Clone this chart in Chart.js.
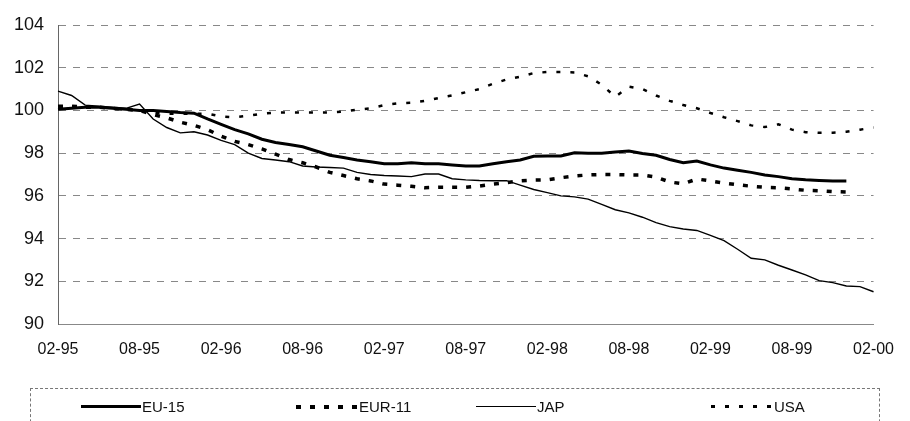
<!DOCTYPE html>
<html>
<head>
<meta charset="utf-8">
<script src="https://cdn.jsdelivr.net/npm/chart.js@4.4.1/dist/chart.umd.min.js"></script>
<style>
  body { margin: 0; background: #fff; }
  #wrap { position: relative; width: 910px; height: 421px; overflow: hidden; }
  #legend {
    position: absolute; left: 30px; top: 388px; width: 850px; height: 50px;
    border: 1px dashed #777; box-sizing: border-box;
    font-family: "Liberation Sans", Arial, sans-serif; font-size: 15px; color: #111;
  }
  .item { position: absolute; top: 9px; display: flex; align-items: center; }
  .sample { margin-right: 1px; }
</style>
</head>
<body>
<div id="wrap">
  <canvas id="chart" width="910" height="421"></canvas>
  <div id="legend"></div>
</div>
<script>
const months = [
  "02-95","03-95","04-95","05-95","06-95","07-95","08-95","09-95","10-95","11-95","12-95","01-96",
  "02-96","03-96","04-96","05-96","06-96","07-96","08-96","09-96","10-96","11-96","12-96","01-97",
  "02-97","03-97","04-97","05-97","06-97","07-97","08-97","09-97","10-97","11-97","12-97","01-98",
  "02-98","03-98","04-98","05-98","06-98","07-98","08-98","09-98","10-98","11-98","12-98","01-99",
  "02-99","03-99","04-99","05-99","06-99","07-99","08-99","09-99","10-99","11-99","12-99","01-00",
  "02-00"
];

const eu15 = [
  100.05, 100.1, 100.15, 100.15, 100.1, 100.05, 100.0, 100.0, 99.95, 99.9, 99.87, 99.6,
  99.35, 99.1, 98.9, 98.65, 98.5, 98.4, 98.3, 98.1, 97.9, 97.8, 97.68, 97.6,
  97.5, 97.5, 97.55, 97.5, 97.5, 97.45, 97.4, 97.4, 97.5, 97.6, 97.68, 97.85,
  97.87, 97.87, 98.02, 98.0, 98.0, 98.05, 98.1, 97.98, 97.9, 97.7, 97.55, 97.63,
  97.45, 97.3, 97.2, 97.1, 96.98, 96.9, 96.8, 96.75, 96.72, 96.7, 96.7
];

const eur11 = [
  100.2, 100.2, 100.15, 100.15, 100.1, 100.05, 100.0, 99.8, 99.65, 99.45, 99.3, 99.1,
  98.8, 98.55, 98.4, 98.2, 97.95, 97.7, 97.55, 97.35, 97.1, 96.95, 96.8, 96.7,
  96.55, 96.5, 96.45, 96.38, 96.4, 96.4, 96.4, 96.46, 96.55, 96.62, 96.7, 96.74,
  96.75, 96.85, 96.93, 96.98, 97.0, 97.0, 96.98, 96.98, 96.88, 96.65, 96.56, 96.79,
  96.7, 96.6, 96.52, 96.45, 96.4, 96.38, 96.32, 96.26, 96.24, 96.2, 96.18
];

const jap = [
  100.9, 100.7, 100.25, 100.2, 100.15, 100.1, 100.3, 99.6, 99.2, 98.95, 99.0, 98.85,
  98.6, 98.4, 98.0, 97.75, 97.68, 97.6, 97.4, 97.35, 97.33, 97.3, 97.1, 97.0,
  96.95, 96.93, 96.9, 97.02, 97.02, 96.8, 96.75, 96.72, 96.71, 96.71, 96.5, 96.3,
  96.15, 96.0, 95.95, 95.85, 95.6, 95.35, 95.2, 95.0, 94.75, 94.56, 94.45, 94.38,
  94.15, 93.9, 93.5, 93.08, 93.0, 92.75, 92.53, 92.3, 92.03, 91.94, 91.78, 91.75,
  91.51
];

const usa = [
  100.2, 100.2, 100.2, 100.15, 100.1, 100.1, 100.0, 99.9, 99.85, 99.85, 99.85, 99.85,
  99.72, 99.68, 99.75, 99.85, 99.9, 99.9, 99.9, 99.9, 99.91, 99.95, 100.03, 100.1,
  100.25, 100.33, 100.36, 100.45, 100.58, 100.7, 100.85, 101.0, 101.25, 101.45, 101.58, 101.75,
  101.8, 101.8, 101.78, 101.6, 101.2, 100.64, 101.11, 101.0, 100.7, 100.45, 100.25, 100.1,
  99.88, 99.68, 99.5, 99.3, 99.22, 99.35, 99.1, 98.98, 98.95, 98.96, 99.0, 99.1,
  99.2
];

const seriesNames = ["EU-15", "EUR-11", "JAP", "USA"];
const yTicks = [90, 92, 94, 96, 98, 100, 102, 104];

const styles = [
  { width: 3, dash: [] },
  { width: 3.5, dash: [5, 9] },
  { width: 1.4, dash: [] },
  { width: 2.5, dash: [4, 10] }
];

const ctx = document.getElementById("chart").getContext("2d");
new Chart(ctx, {
  type: "line",
  data: {
    labels: months,
    datasets: [eu15, eur11, jap, usa].map((d, i) => ({
      label: seriesNames[i],
      data: d,
      borderColor: "#000",
      borderWidth: styles[i].width,
      borderDash: styles[i].dash,
      pointRadius: 0,
      tension: 0,
      fill: false
    }))
  },
  options: {
    responsive: false,
    animation: false,
    layout: { padding: { left: 0, right: 23, top: 25, bottom: 57 } },
    plugins: { legend: { display: false }, tooltip: { enabled: false } },
    scales: {
      x: {
        grid: { display: false, drawTicks: false },
        border: { display: true, color: "#888", width: 1 },
        ticks: {
          autoSkip: false, maxRotation: 0, padding: 16,
          color: "#111",
          font: { family: "Liberation Sans", size: 16 },
          callback: (v, i) => (i % 6 === 0 ? months[i] : "")
        },
        afterFit: (s) => { s.height = 40; }
      },
      y: {
        min: 90, max: 104,
        afterBuildTicks: (s) => { s.ticks = yTicks.map((v) => ({ value: v })); },
        grid: { color: "#888", lineWidth: 1, drawTicks: false },
        border: { display: true, color: "#666", width: 1, dash: [7, 7] },
        ticks: {
          padding: 14, color: "#111",
          font: { family: "Liberation Sans", size: 18 }
        },
        afterFit: (s) => { s.width = 58; }
      }
    }
  }
});

// legend in a dashed box under the chart
const legendPos = [50, 265, 445, 680];
const legendSample = [
  "height: 3px; background: #000; width: 60px;",
  "height: 4px; width: 62px; background: repeating-linear-gradient(90deg, #000 0 5px, transparent 5px 14px);",
  "height: 1.5px; background: #000; width: 60px;",
  "height: 3px; width: 62px; background: repeating-linear-gradient(90deg, #000 0 4px, transparent 4px 14px);"
];
const legend = document.getElementById("legend");
seriesNames.forEach((name, i) => {
  const it = document.createElement("div");
  it.className = "item";
  it.style.left = legendPos[i] + "px";
  it.innerHTML = `<div class="sample" style="${legendSample[i]}"></div><span>${name}</span>`;
  legend.appendChild(it);
});
</script>
</body>
</html>
